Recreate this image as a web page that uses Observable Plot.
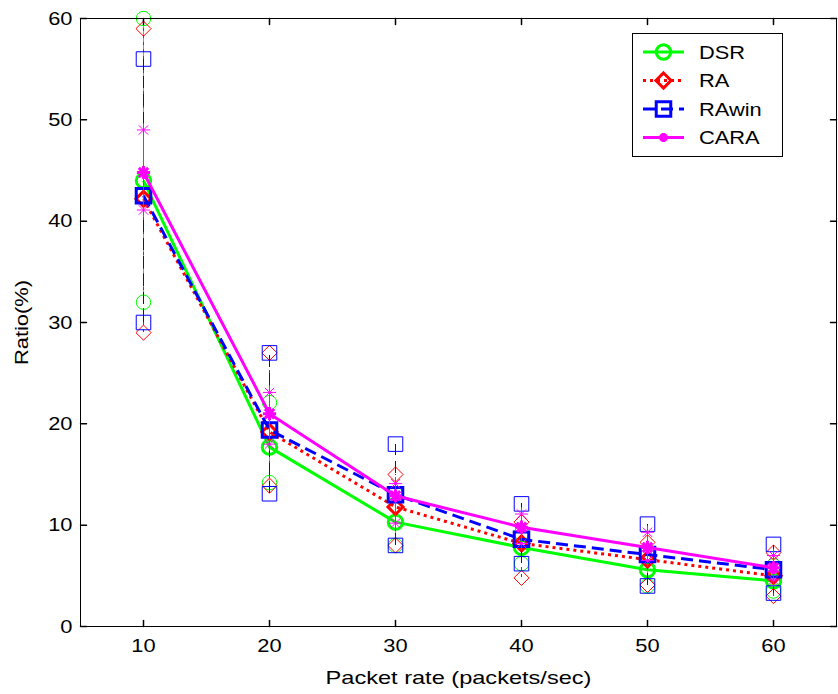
<!DOCTYPE html>
<html><head><meta charset="utf-8">
<script src="https://cdn.jsdelivr.net/npm/d3@7"></script>
<script src="https://cdn.jsdelivr.net/npm/@observablehq/plot@0.6"></script>
<style>body{margin:0;background:#fff} #chart{position:relative;width:838px;height:694px}</style>
</head><body><div id="chart"></div>
<script>
// ---- data ----
const rates = [10, 20, 30, 40, 50, 60];
const seriesNames = ["DSR", "RA", "RAwin", "CARA"];
const dsrMean = [44.0, 17.7, 10.3, 7.8, 5.6, 4.5];
const dsrLo   = [32.0, 14.2, 8.0, 6.2, 4.0, 3.5];
const dsrHi   = [60.0, 22.1, 13.1, 9.2, 7.0, 6.0];
const raMean  = [42.2, 19.2, 11.8, 8.2, 6.6, 5.0];
const raLo    = [29.0, 13.9, 8.0, 4.8, 4.1, 3.0];
const raHi    = [59.0, 27.0, 15.0, 10.3, 8.3, 7.3];
const rawMean = [42.5, 19.4, 13.0, 8.6, 7.1, 5.6];
const rawLo   = [30.0, 13.1, 8.0, 6.2, 4.0, 3.3];
const rawHi   = [56.0, 27.0, 18.0, 12.1, 10.1, 8.1];
const caraMean = [44.8, 21.0, 12.9, 9.8, 7.8, 5.8];
const caraLo   = [41.1, 18.0, 10.2, 8.2, 6.5, 4.6];
const caraHi   = [49.0, 23.1, 14.1, 11.1, 9.3, 7.0];
const xTicks = [10, 20, 30, 40, 50, 60];
const yTicks = [0, 10, 20, 30, 40, 50, 60];
const xLabel = "Packet rate (packets/sec)";
const yLabel = "Ratio(%)";

// ---- styles ----
const star8 = {draw(ctx, size) {
  const r = Math.sqrt(size) * 0.62, d = r * 0.7071;
  ctx.moveTo(-r, 0); ctx.lineTo(r, 0); ctx.moveTo(0, -r); ctx.lineTo(0, r);
  ctx.moveTo(-d, -d); ctx.lineTo(d, d); ctx.moveTo(-d, d); ctx.lineTo(d, -d);
}};
const styles = {
  DSR:   {color: "#00ff00", symbol: "circle",   r: 7.2, dash: null},
  RA:    {color: "#ff0000", symbol: "diamond2", r: 6.8, dash: "3,4"},
  RAwin: {color: "#0000ff", symbol: "square",   r: 8.2, dash: "12,6"},
  CARA:  {color: "#ff00ff", symbol: star8,      r: 6.0, dash: null}
};
const means = [dsrMean, raMean, rawMean, caraMean];
const los = [dsrLo, raLo, rawLo, caraLo];
const his = [dsrHi, raHi, rawHi, caraHi];
const tables = seriesNames.map((s, i) => rates.map((x, j) => ({series: s, x, mean: means[i][j], lo: los[i][j], hi: his[i][j]})));

const tickShape = {draw(ctx, l) { ctx.moveTo(0, 0); ctx.lineTo(0, -l); }};

const marks = [];
tables.forEach((t, i) => {
  const st = styles[seriesNames[i]];
  marks.push(
    Plot.ruleX(t, {x: "x", y1: "lo", y2: "hi", stroke: st.color, strokeWidth: 1, strokeDasharray: st.dash, shapeRendering: "crispEdges"}),
    Plot.dot(t, {x: "x", y: "lo", symbol: st.symbol, r: st.r, stroke: st.color, fill: "none", strokeWidth: 1}),
    Plot.dot(t, {x: "x", y: "hi", symbol: st.symbol, r: st.r, stroke: st.color, fill: "none", strokeWidth: 1}),
    Plot.line(t, {x: "x", y: "mean", stroke: st.color, strokeWidth: 3, strokeDasharray: st.dash, strokeLinecap: "butt"}),
    Plot.dot(t, {x: "x", y: "mean", symbol: st.symbol, r: st.r, stroke: st.color, fill: "none", strokeWidth: 3})
  );
});

const plot = Plot.plot({
  width: 838, height: 694,
  marginLeft: 80, marginRight: 2, marginTop: 18, marginBottom: 68,
  style: {fontSize: "19px", fontFamily: "'Liberation Sans', Arial, sans-serif", color: "black", background: "white"},
  x: {domain: [5, 65]},
  y: {domain: [0, 60]},
  marks: [
    ...marks,
    Plot.frame({stroke: "black", strokeWidth: 1}),
    Plot.vector(yTicks, {y: d => d, frameAnchor: "left", length: 6, rotate: 90, anchor: "start", shape: tickShape, stroke: "black"}),
    Plot.vector(yTicks, {y: d => d, frameAnchor: "right", length: 6, rotate: -90, anchor: "start", shape: tickShape, stroke: "black"}),
    Plot.vector(xTicks, {x: d => d, frameAnchor: "bottom", length: 6, rotate: 0, anchor: "start", shape: tickShape, stroke: "black"}),
    Plot.vector(xTicks, {x: d => d, frameAnchor: "top", length: 6, rotate: 180, anchor: "start", shape: tickShape, stroke: "black"}),
    Plot.axisX(xTicks, {tickSize: 0, tickPadding: 12, label: xLabel, labelAnchor: "center", labelArrow: "none", labelOffset: 57}),
    Plot.axisY(yTicks, {tickSize: 0, tickPadding: 8, label: yLabel, labelAnchor: "center", labelArrow: "none", labelOffset: 66})
  ]
});
document.getElementById("chart").appendChild(plot);

// ---- legend ----
const svg = d3.select(plot);
const lg = svg.append("g").attr("font-family", "'Liberation Sans', Arial, sans-serif").attr("font-size", 19).attr("text-anchor", "start");
lg.append("rect").attr("x", 632.5).attr("y", 33.5).attr("width", 150).attr("height", 123).attr("fill", "white").attr("stroke", "black");
seriesNames.forEach((s, i) => {
  const st = styles[s];
  const y = 52 + i * 28.5;
  lg.append("line").attr("x1", 643).attr("x2", 684).attr("y1", y).attr("y2", y)
    .attr("stroke", st.color).attr("stroke-width", 3).attr("stroke-dasharray", st.dash);
  const sym = typeof st.symbol === "string" ? ({circle: d3.symbolCircle, diamond2: d3.symbolDiamond2, square: d3.symbolSquare})[st.symbol] : st.symbol;
  const size = s === "CARA" ? Math.PI * 4 * 4 : Math.PI * st.r * st.r;
  lg.append("path").attr("d", d3.symbol(sym, size)()).attr("transform", `translate(663.5,${y})`)
    .attr("fill", "none").attr("stroke", st.color).attr("stroke-width", 3);
  lg.append("text").attr("x", 699).attr("y", y).attr("dy", "0.36em").attr("fill", "black").text(s);
});

// widen glyphs slightly like the original export
svg.selectAll("text").each(function() {
  const n = this.getComputedTextLength();
  const isXLabel = this.closest('[aria-label="x-axis label"]') !== null;
  const k = isXLabel ? 1.24 : 1.15;
  if (n > 0) { this.setAttribute("textLength", (n * k).toFixed(1)); this.setAttribute("lengthAdjust", "spacingAndGlyphs"); }
});
</script></body></html>
